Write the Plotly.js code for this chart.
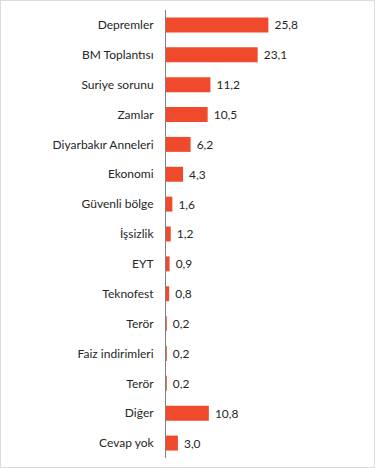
<!DOCTYPE html>
<html><head><meta charset="utf-8">
<script src="https://cdn.plot.ly/plotly-3.0.1.min.js"></script>
<style>
html,body{margin:0;padding:0;background:#fff;}
#chart{width:373px;height:466px;border:1px solid #dcdcdc;}
</style></head>
<body><div id="chart"></div>
<script>
const categories = ["Depremler","BM Toplantısı","Suriye sorunu","Zamlar","Diyarbakır Anneleri","Ekonomi","Güvenli bölge","İşsizlik","EYT","Teknofest","Terör","Faiz indirimleri","Terör","Diğer","Cevap yok"];
const values = [25.8,23.1,11.2,10.5,6.2,4.3,1.6,1.2,0.9,0.8,0.2,0.2,0.2,10.8,3.0];
const valueLabels = values.map(v => v.toFixed(1).replace('.', ','));
const positions = categories.map((c, i) => i);

const trace = {
  type: 'bar', orientation: 'h',
  x: values, y: positions,
  text: valueLabels, texttemplate: '\u00a0%{text}', textposition: 'outside', cliponaxis: false,
  textfont: {family: 'Lato, "Open Sans", sans-serif', size: 12, color: '#262626'},
  marker: {color: '#EF4A2C'},
  width: 0.5, hoverinfo: 'none'
};
const layout = {
  width: 373, height: 466,
  margin: {l: 165, r: 8, t: 9, b: 9},
  paper_bgcolor: '#fff', plot_bgcolor: '#fff',
  showlegend: false,
  font: {family: 'Lato, "Open Sans", sans-serif', size: 12, color: '#262626'},
  xaxis: {range: [0, 50.4], visible: false, fixedrange: true},
  yaxis: {
    range: [categories.length - 0.5, -0.5],
    tickvals: positions, ticktext: categories,
    showgrid: false, zeroline: false,
    showline: true, linecolor: '#7f7f7f', linewidth: 1,
    ticks: '', ticklabelstandoff: 9,
    tickfont: {family: 'Lato, "Open Sans", sans-serif', size: 12, color: '#262626'},
    fixedrange: true
  }
};
Plotly.newPlot('chart', [trace], layout, {displayModeBar: false, staticPlot: true});
</script></body></html>
